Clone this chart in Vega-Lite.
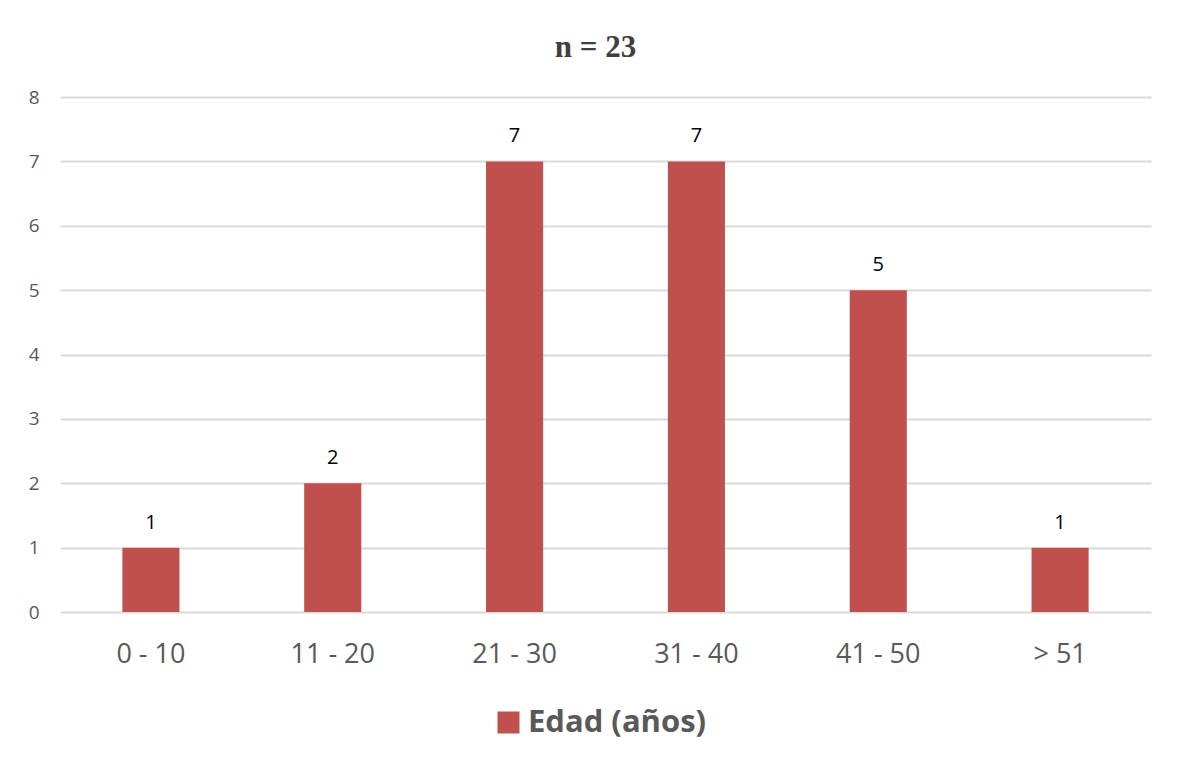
{
  "$schema": "https://vega.github.io/schema/vega-lite/v6.json",
  "autosize": {"type": "none"},
  "width": 1091,
  "height": 515,
  "padding": {"left": 60, "top": 97, "right": 27, "bottom": 151},
  "background": "white",
  "title": {
    "text": "n = 23",
    "font": "Liberation Serif",
    "fontSize": 31,
    "fontWeight": "bold",
    "color": "#404040",
    "offset": 24,
    "dx": -10,
    "anchor": "middle"
  },
  "data": {
    "values": [
      {"edad": "0 - 10", "n": 1, "serie": "Edad (años)"},
      {"edad": "11 - 20", "n": 2, "serie": "Edad (años)"},
      {"edad": "21 - 30", "n": 7, "serie": "Edad (años)"},
      {"edad": "31 - 40", "n": 7, "serie": "Edad (años)"},
      {"edad": "41 - 50", "n": 5, "serie": "Edad (años)"},
      {"edad": "> 51", "n": 1, "serie": "Edad (años)"}
    ]
  },
  "encoding": {
    "x": {
      "field": "edad",
      "type": "nominal",
      "sort": null,
      "scale": {"paddingInner": 0.686, "paddingOuter": 0.343},
      "axis": {
        "title": null,
        "labelAngle": 0,
        "labelFont": "Open Sans",
        "labelFontSize": 27,
        "labelColor": "#595959",
        "labelPadding": 29,
        "ticks": false,
        "domain": false,
        "grid": false
      }
    },
    "y": {
      "field": "n",
      "type": "quantitative",
      "scale": {"domain": [0, 8]},
      "axis": {
        "title": null,
        "values": [0, 1, 2, 3, 4, 5, 6, 7, 8],
        "labelFont": "Open Sans",
        "labelFontSize": 19,
        "labelColor": "#595959",
        "labelPadding": 21,
        "ticks": false,
        "domain": false,
        "grid": true,
        "gridColor": "#d9d9d9",
        "gridWidth": 2
      }
    }
  },
  "layer": [
    {
      "mark": {"type": "bar", "color": "#C0504D"},
      "encoding": {
        "color": {
          "field": "serie",
          "type": "nominal",
          "scale": {"range": ["#C0504D"]},
          "legend": {
            "title": null,
            "orient": "none",
            "legendX": 433,
            "legendY": 610,
            "direction": "horizontal",
            "symbolType": "square",
            "symbolSize": 484,
            "symbolStrokeWidth": 0,
            "symbolOpacity": 1,
            "labelFont": "Open Sans",
            "labelFontSize": 31,
            "labelFontWeight": "bold",
            "labelColor": "#595959",
            "labelOffset": 4,
            "labelLimit": 400
          }
        }
      }
    },
    {
      "mark": {
        "type": "text",
        "baseline": "bottom",
        "dy": -15,
        "font": "Open Sans",
        "fontSize": 20,
        "color": "#000000"
      },
      "encoding": {"text": {"field": "n", "type": "quantitative"}}
    }
  ],
  "config": {"view": {"stroke": null}}
}
